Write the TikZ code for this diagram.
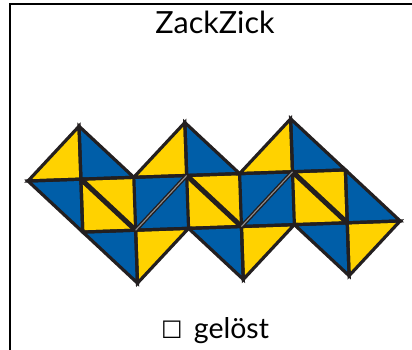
\documentclass[tikz,border=0pt]{standalone}
\usepackage{fontspec}
\setmainfont{Lato}
\newfontfamily\symfont{DejaVu Sans}
\definecolor{zyellow}{RGB}{255,210,0}
\definecolor{zblue}{RGB}{0,94,168}
\definecolor{zline}{RGB}{35,31,32}
\begin{document}
\begin{tikzpicture}[x=1pt,y=-1pt,
  edge/.style={draw=zline,line width=3.2pt},
  ytri/.style={fill=zyellow},
  btri/.style={fill=zblue},
  fold/.style={draw=zline,line width=5pt},
  hinge/.style={draw=zline,line width=1.4pt,double=zline!50,double distance=1.1pt},
  frameline/.style={draw=black,line width=2pt},
  label/.style={font=\fontsize{28.5}{33}\selectfont,anchor=base}]
\useasboundingbox (0,0) rectangle (412,349);
\draw[frameline] (10,360) -- (10,4.3) -- (425,4.3);
\node[label,font=\fontsize{30.5}{35}\selectfont] (title) at (215,33) {ZackZick};
\node[label] (status) at (215,338) {{\symfont\fontsize{24}{28}\selectfont ☐}\hspace{0.4em}gelöst};
\begin{scope}[shift={(26.15pt,-128.1pt)},x={(52.9pt,1.85pt)},y={(1.85pt,-52.9pt)}]
\foreach \i in {0,...,7}{\foreach \j in {0,...,3}{\coordinate (g\i\j) at (\i,\j);}}
% yellow triangles
\foreach \a/\b/\c in {10/01/11,30/21/31,50/41/51,11/21/22,11/12/22,31/41/42,31/32/42,51/61/62,51/52/62,22/32/23,42/52/43,62/72/63}
  \fill[ytri] (g\a) -- (g\b) -- (g\c) -- cycle;
% blue triangles
\foreach \a/\b/\c in {10/11/21,30/31/41,50/51/61,01/11/12,21/31/22,31/32/22,41/51/42,51/52/42,61/62/72,12/22/23,32/42/43,52/62/63}
  \fill[btri] (g\a) -- (g\b) -- (g\c) -- cycle;
% edges
\foreach \a/\b/\c in {10/01/11,30/21/31,50/41/51,22/32/23,42/52/43,62/72/63,10/11/21,30/31/41,50/51/61,01/11/12,61/62/72,12/22/23,32/42/43,52/62/63}
  \draw[edge] (g\a) -- (g\b) -- (g\c) -- cycle;
\foreach \a/\b in {11/21,21/22,11/12,12/22,31/41,41/42,31/32,32/42,51/61,61/62,51/52,52/62,21/31,22/32,41/51,42/52}
  \draw[edge] (g\a) -- (g\b);
% folds (main diagonals)
\foreach \a/\b in {11/22,31/42,51/62}
  \draw[fold] (g\a) -- (g\b);
% hinges (anti-diagonals)
\foreach \a/\b in {22/31,42/51}
  \draw[hinge] (g\a) -- (g\b);
\end{scope}
\end{tikzpicture}
\end{document}
